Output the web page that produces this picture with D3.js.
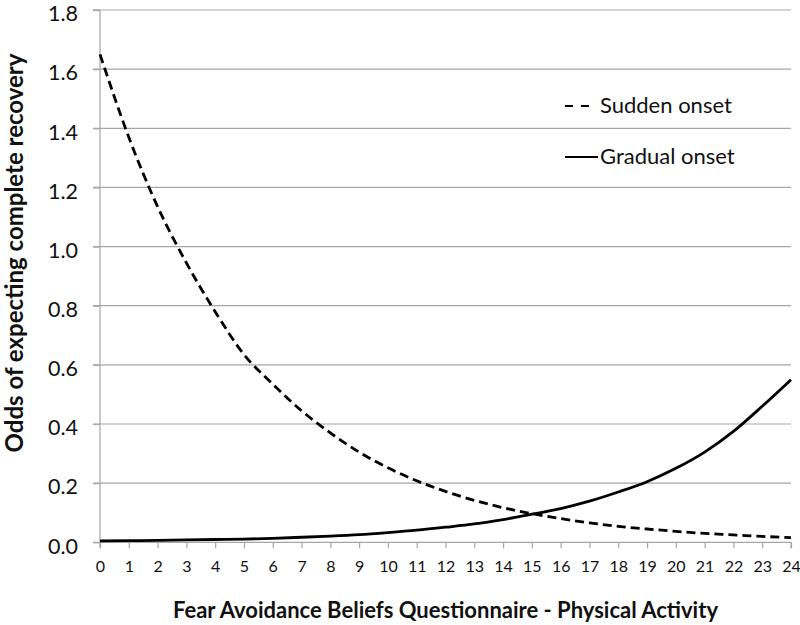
<!DOCTYPE html>
<html>
<head>
<meta charset="utf-8">
<script src="https://cdn.jsdelivr.net/npm/d3@7"></script>
<style>
  html, body { margin: 0; padding: 0; background: #fff; }
  svg { display: block; font-family: Lato, "Open Sans", sans-serif; }
</style>
</head>
<body>
<svg id="chart" width="800" height="625"></svg>
<script>
const xValues = [0,1,2,3,4,5,6,7,8,9,10,11,12,13,14,15,16,17,18,19,20,21,22,23,24];
const suddenOnset = [1.65,1.37,1.135,0.945,0.78,0.635,0.535,0.445,0.37,0.305,0.252,0.208,0.172,0.142,0.117,0.097,0.08,0.066,0.054,0.045,0.037,0.03,0.025,0.02,0.016];
const gradualOnset = [0.0045,0.0055,0.0065,0.008,0.0095,0.011,0.0135,0.017,0.021,0.026,0.033,0.041,0.051,0.062,0.077,0.095,0.114,0.139,0.17,0.205,0.25,0.305,0.375,0.46,0.55];
const yTicks = [0,0.2,0.4,0.6,0.8,1.0,1.2,1.4,1.6,1.8];
const seriesNames = ["Sudden onset", "Gradual onset"];
const xTitle = "Fear Avoidance Beliefs Questionnaire - Physical Activity";
const yTitle = "Odds of expecting complete recovery";

const svg = d3.select("#chart");
const mLeft = 100, mRight = 791, mTop = 10, mBottom = 542.3;
const x = d3.scaleLinear().domain([0, 24]).range([mLeft, mRight]);
const y = d3.scaleLinear().domain([0, 1.8]).range([mBottom, mTop]);
const gridColor = "#a6a6a6";

// gridlines
svg.append("g").selectAll("line").data(yTicks.slice(1)).join("line")
  .attr("x1", mLeft - 7).attr("x2", mRight)
  .attr("y1", d => y(d)).attr("y2", d => y(d))
  .attr("stroke", gridColor).attr("stroke-width", 1.2);

// y axis
const yAxis = svg.append("g").attr("transform", `translate(${mLeft},0)`)
  .call(d3.axisLeft(y).tickValues(yTicks).tickFormat(d3.format(".1f")).tickSize(7).tickPadding(15));
yAxis.select(".domain").attr("stroke", gridColor).attr("stroke-width", 1.2)
  .attr("d", `M-7,${mTop}H0V${mBottom + 6}`);
yAxis.selectAll(".tick line").attr("stroke", gridColor).attr("stroke-width", 1.2);
yAxis.selectAll(".tick text").attr("font-size", 21.5).attr("dy", "0.5em")
  .attr("fill", "#111").attr("font-family", "Lato, sans-serif");

// x axis
const xAxis = svg.append("g").attr("transform", `translate(0,${mBottom})`)
  .call(d3.axisBottom(x).tickValues(xValues).tickFormat(d3.format("d")).tickSize(6).tickPadding(12));
xAxis.select(".domain").attr("stroke", gridColor).attr("stroke-width", 1.2)
  .attr("d", `M${mLeft - 7},0H${mRight}V6`);
xAxis.selectAll(".tick line").attr("stroke", gridColor).attr("stroke-width", 1.2);
xAxis.selectAll(".tick text").attr("font-size", 16).attr("fill", "#111").attr("font-family", "Lato, sans-serif");

// lines
const line = d3.line().x((d, i) => x(xValues[i])).y(d => y(d)).curve(d3.curveMonotoneX);
svg.append("path").datum(suddenOnset).attr("d", line)
  .attr("fill", "none").attr("stroke", "#000").attr("stroke-width", 2.8)
  .attr("stroke-dasharray", "9,5");
svg.append("path").datum(gradualOnset).attr("d", line)
  .attr("fill", "none").attr("stroke", "#000").attr("stroke-width", 2.8);

// legend
svg.append("line").attr("x1", 565).attr("x2", 589).attr("y1", 106).attr("y2", 106)
  .attr("stroke", "#000").attr("stroke-width", 2).attr("stroke-dasharray", "8,8");
svg.append("text").attr("x", 600).attr("y", 113).attr("font-size", 22).attr("fill", "#111").text(seriesNames[0]);
svg.append("line").attr("x1", 565).attr("x2", 598).attr("y1", 157).attr("y2", 157)
  .attr("stroke", "#000").attr("stroke-width", 2);
svg.append("text").attr("x", 600).attr("y", 164).attr("font-size", 22).attr("fill", "#111").text(seriesNames[1]);

// titles
svg.append("text").attr("x", (mLeft + mRight) / 2).attr("y", 618).attr("text-anchor", "middle")
  .attr("font-size", 22).attr("font-weight", "bold").attr("fill", "#111").text(xTitle);
svg.append("text").attr("transform", "translate(23,253) rotate(-90)").attr("text-anchor", "middle")
  .attr("font-size", 24).attr("font-weight", "bold").attr("fill", "#111").text(yTitle);
</script>
</body>
</html>
